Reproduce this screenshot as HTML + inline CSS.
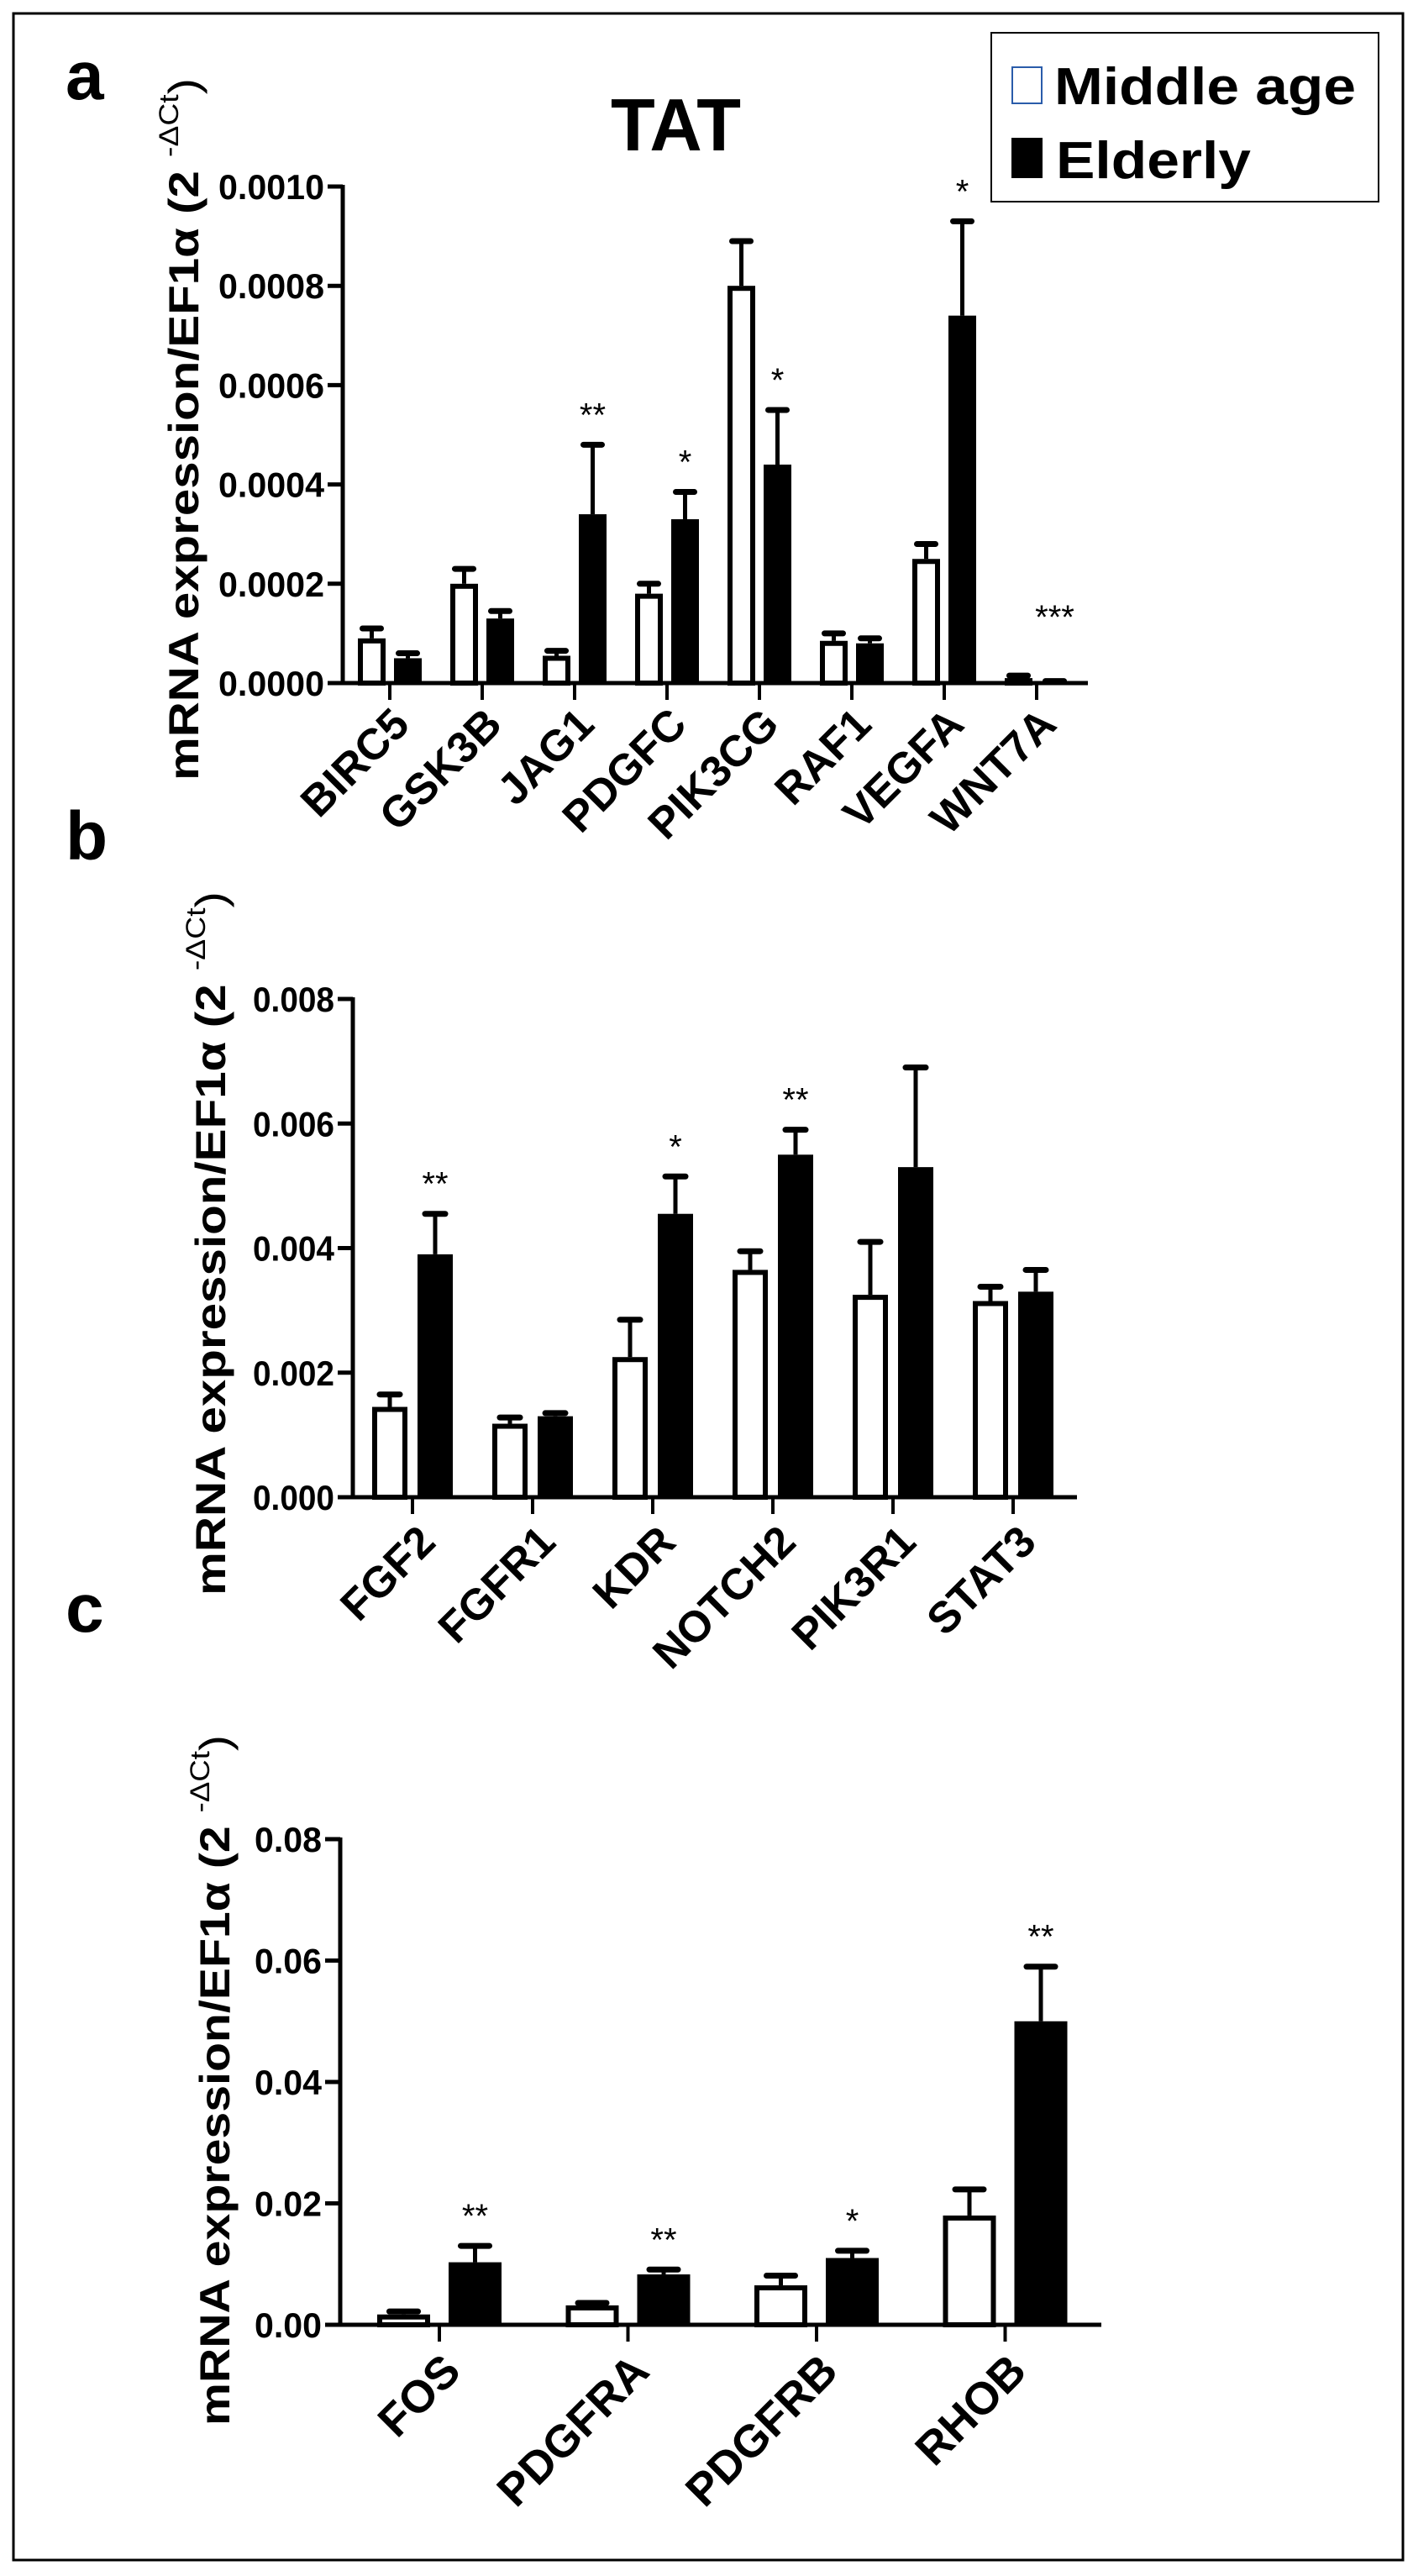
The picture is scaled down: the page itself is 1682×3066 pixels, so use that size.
<!DOCTYPE html>
<html><head><meta charset="utf-8"><style>
html,body{margin:0;padding:0;background:#fff;}
svg{display:block;font-family:"Liberation Sans",Arial,sans-serif;}
</style></head><body>
<svg id="fig" width="1682" height="3066" viewBox="0 0 1682 3066" xmlns="http://www.w3.org/2000/svg">
<rect x="16" y="16" width="1654" height="3031" fill="none" stroke="#000" stroke-width="3"/>
<text x="78" y="118" font-size="82" font-weight="bold">a</text>
<text x="78" y="1023" font-size="82" font-weight="bold">b</text>
<text x="78" y="1942" font-size="82" font-weight="bold">c</text>
<text x="727" y="179" font-size="88" font-weight="bold" textLength="155" lengthAdjust="spacingAndGlyphs">TAT</text>
<g>
<rect x="1180" y="39" width="461" height="201" fill="#fff" stroke="#000" stroke-width="2"/>
<rect x="1205" y="80" width="35" height="43" fill="#fff" stroke="#2a5caa" stroke-width="2"/>
<text x="1255" y="124" font-size="62" font-weight="bold" textLength="359" lengthAdjust="spacingAndGlyphs">Middle age</text>
<rect x="1204" y="164" width="37" height="48" fill="#000"/>
<text x="1257" y="212" font-size="62" font-weight="bold" textLength="232" lengthAdjust="spacingAndGlyphs">Elderly</text>
</g>
</svg>
<script>
// Panel a data
const catsA = ["BIRC5","GSK3B","JAG1","PDGFC","PIK3CG","RAF1","VEGFA","WNT7A"];
const midA = [0.00009,0.0002,0.000055,0.00018,0.0008,0.000085,0.00025,0.00001];
const midErrA = [0.00011,0.00023,0.000065,0.0002,0.00089,0.0001,0.00028,0.000015];
const eldA = [0.00005,0.00013,0.00034,0.00033,0.00044,0.00008,0.00074,0.000003];
const eldErrA = [0.00006,0.000145,0.00048,0.000385,0.00055,0.00009,0.00093,0.000004];
const starsA = ["","","**","*","*","","*","***"];
const ticksA = [0,0.0002,0.0004,0.0006,0.0008,0.0010];
const tickLabelsA = ["0.0000","0.0002","0.0004","0.0006","0.0008","0.0010"];
// Panel b data
const catsB = ["FGF2","FGFR1","KDR","NOTCH2","PIK3R1","STAT3"];
const midB = [0.00145,0.00118,0.00225,0.00365,0.00325,0.00315];
const midErrB = [0.00165,0.00128,0.00285,0.00395,0.0041,0.00338];
const eldB = [0.0039,0.0013,0.00455,0.0055,0.0053,0.0033];
const eldErrB = [0.00455,0.00135,0.00515,0.0059,0.0069,0.00365];
const starsB = ["**","","*","**","",""];
const ticksB = [0,0.002,0.004,0.006,0.008];
const tickLabelsB = ["0.000","0.002","0.004","0.006","0.008"];
// Panel c data
const catsC = ["FOS","PDGFRA","PDGFRB","RHOB"];
const midC = [0.0017,0.0032,0.0065,0.018];
const midErrC = [0.0022,0.0036,0.0081,0.0223];
const eldC = [0.0103,0.0083,0.011,0.05];
const eldErrC = [0.013,0.0091,0.0122,0.059];
const starsC = ["**","**","*","**"];
const ticksC = [0,0.02,0.04,0.06,0.08];
const tickLabelsC = ["0.00","0.02","0.04","0.06","0.08"];

const NS="http://www.w3.org/2000/svg";
const svg=document.getElementById('fig');
function mk(tag,attrs,parent){const e=document.createElementNS(NS,tag);for(const k in attrs)e.setAttribute(k,attrs[k]);(parent||svg).appendChild(e);return e;}

function panel(cfg){
  const g=mk('g',{});
  
  
  const y=v=>cfg.y0-(v/cfg.max)*(cfg.y0-cfg.yTop);
  const x=i=>cfg.x0+i*cfg.step;
  const ya=mk('line',{x1:cfg.ax,y1:cfg.yTop-2,x2:cfg.ax,y2:cfg.y0,stroke:'#000','stroke-width':5},g);
  
  
  const xa=mk('line',{x1:cfg.ax-18,y1:cfg.y0,x2:cfg.axEnd,y2:cfg.y0,stroke:'#000','stroke-width':5},g);
  
  
  cfg.ticks.forEach((t,i)=>{
    const tl=mk('line',{x1:cfg.ax-18,y1:y(t),x2:cfg.ax,y2:y(t),stroke:'#000','stroke-width':5},g);
    
    
    const tx=mk('text',{x:cfg.ax-22,y:y(t)+15,'font-size':42,'font-weight':'bold','text-anchor':'end',textLength:cfg.tlw,lengthAdjust:'spacingAndGlyphs'},g);
    tx.textContent=cfg.tickLabels[i];
    
    
  });
  cfg.cats.forEach((c,i)=>{
    const cx=x(i);
    const tk=mk('line',{x1:cx,y1:cfg.y0,x2:cx,y2:cfg.y0+20,stroke:'#000','stroke-width':4},g);
    
    
    const w=cfg.bw, gap=cfg.gap, sw=6;
    const drawErr=(bx,v,e)=>{
      const ex=bx+w/2;
      const l=mk('line',{x1:ex,y1:y(v),x2:ex,y2:y(e),stroke:'#000','stroke-width':5},g);
      
      
      const cap=mk('line',{x1:ex-cfg.cap/2,y1:y(e),x2:ex+cfg.cap/2,y2:y(e),stroke:'#000','stroke-width':7,'stroke-linecap':'round'},g);
      
      
    };
    const wx=cx-gap-w, bx=cx+gap;
    drawErr(wx,cfg.mid[i],cfg.midErr[i]);
    drawErr(bx,cfg.eld[i],cfg.eldErr[i]);
    const hw=Math.max(cfg.y0-y(cfg.mid[i]),0);
    const r1=mk('rect',{x:wx+sw/2,y:cfg.y0-hw+sw/2,width:w-sw,height:Math.max(hw-sw/2,0),fill:'#fff',stroke:'#000','stroke-width':sw},g);
    
    
    const hb=Math.max(cfg.y0-y(cfg.eld[i]),0);
    const r2=mk('rect',{x:bx,y:cfg.y0-hb,width:w,height:hb+1,fill:'#000'},g);
    
    
    if(cfg.stars[i]){
      const top=Math.max(cfg.eldErr[i],cfg.eld[i]);
      const sy = cfg.starMin ? Math.min(y(top)-22, y(cfg.starMin)) : y(top)-22;
      const s=mk('text',{x:bx+w/2,y:sy,'font-size':40,'text-anchor':'middle'},g);
      s.textContent=cfg.stars[i];
      
      
    }
    const lt=mk('text',{x:cx+cfg.lx,y:cfg.y0+cfg.ly,'font-size':cfg.lfs,'font-weight':'bold','text-anchor':'end',transform:`rotate(-45 ${cx+cfg.lx} ${cfg.y0+cfg.ly})`},g);
    lt.textContent=c;
    
    
  });
  const tt=mk('text',{x:cfg.titleX,y:cfg.titleY,'font-size':50,'font-weight':'bold','text-anchor':'middle',transform:`rotate(-90 ${cfg.titleX} ${cfg.titleY})`,textLength:cfg.titleLen,lengthAdjust:'spacingAndGlyphs'},g);
  
  
  const t1=mk('tspan',{},tt); t1.textContent='mRNA expression/EF1α (2 ';
  const t2=mk('tspan',{dy:-24,'font-size':32,'font-weight':'normal'},tt); t2.textContent='-ΔCt';
  const t3=mk('tspan',{dy:24,'font-weight':'normal'},tt); t3.textContent=')';
}

panel({name:'panel-a-chart',cats:catsA,mid:midA,midErr:midErrA,eld:eldA,eldErr:eldErrA,stars:starsA,ticks:ticksA,tickLabels:tickLabelsA,
  max:0.0010,y0:813,yTop:222,ax:408,axEnd:1295,x0:464,step:110,bw:33,gap:5,cap:22,tlw:126,lx:26,ly:52,lfs:52,
  titleX:236,titleY:511,titleLen:836,starMin:0.00011});
panel({name:'panel-b-chart',cats:catsB,mid:midB,midErr:midErrB,eld:eldB,eldErr:eldErrB,stars:starsB,ticks:ticksB,tickLabels:tickLabelsB,
  max:0.008,y0:1782,yTop:1189,ax:420,axEnd:1282,x0:491,step:143,bw:42,gap:6,cap:24,tlw:97,lx:30,ly:56,lfs:52,
  titleX:268,titleY:1480,titleLen:838});
panel({name:'panel-c-chart',cats:catsC,mid:midC,midErr:midErrC,eld:eldC,eldErr:eldErrC,stars:starsC,ticks:ticksC,tickLabels:tickLabelsC,
  max:0.08,y0:2767,yTop:2189,ax:405,axEnd:1311,x0:523,step:224.5,bw:63,gap:11,cap:34,tlw:80,lx:28,ly:58,lfs:54,
  titleX:273,titleY:2476,titleLen:822});
</script>
</body></html>
